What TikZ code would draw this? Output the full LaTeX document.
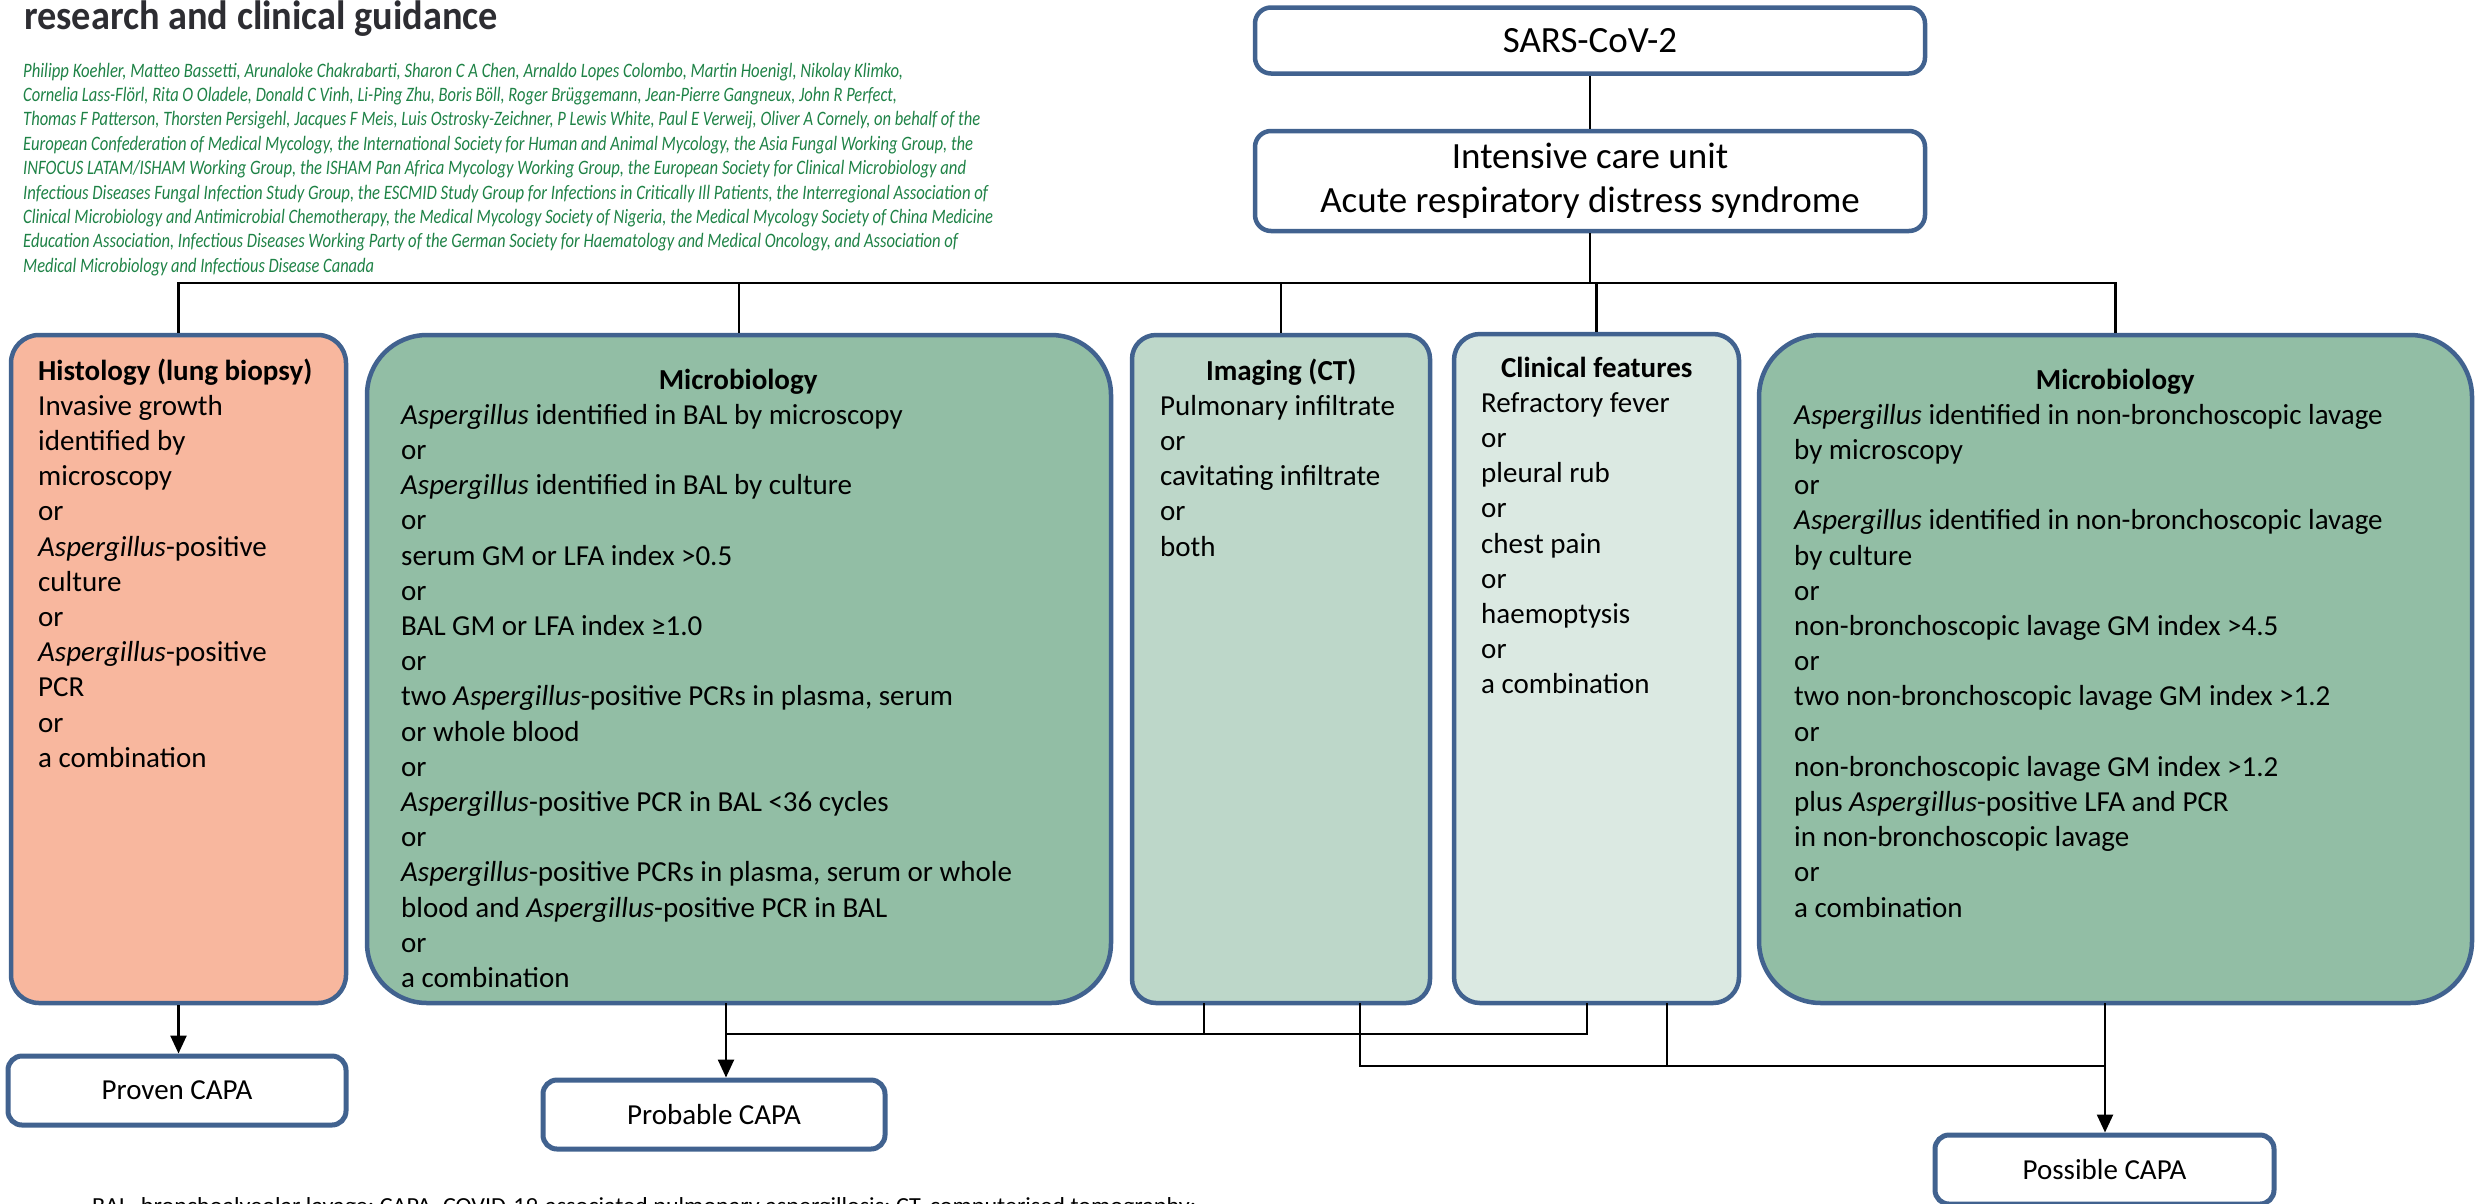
\documentclass[tikz,border=0pt]{standalone}
\usepackage{fontspec}
\setmainfont{Carlito}
\usepackage{graphicx}
\usetikzlibrary{arrows.meta}

\definecolor{frameblue}{RGB}{65,98,143}
\definecolor{histfill}{RGB}{248,183,158}
\definecolor{microfill}{RGB}{146,190,165}
\definecolor{imgfill}{RGB}{189,215,201}
\definecolor{clinfill}{RGB}{219,233,226}
\definecolor{authgreen}{RGB}{30,130,70}
\definecolor{titlegrey}{RGB}{45,45,50}

% one author line stretched to a fixed width, height kept
\newcommand{\authline}[2]{\resizebox{#1}{\height}{#2}}
\newcommand{\asp}{\textit{Aspergillus}}

\begin{document}
\begin{tikzpicture}[x=1pt,y=-1pt,
  critbox/.style={draw=frameblue, line width=4.5pt, rounded corners=#1, inner sep=0pt},
  topbox/.style={draw=frameblue, line width=4.5pt, rounded corners=16pt, fill=white,
    minimum width=670pt, align=center, font=\fontsize{37}{44}\selectfont},
  outbox/.style={draw=frameblue, line width=5pt, rounded corners=14pt, fill=white,
    minimum height=69pt, font=\fontsize{29}{35}\selectfont},
  bodytext/.style={anchor=base west, inner sep=0pt, font=\fontsize{29}{35.2}\selectfont},
  conn/.style={draw=black, line width=2.5pt},
  arr/.style={conn, -{Triangle[length=18pt,width=16pt]}},
]
\useasboundingbox (0,0) rectangle (2484,1203);

% ---- heading and authors ----
\node[anchor=base west, inner sep=0pt, text=titlegrey,
      font=\fontsize{41}{46}\selectfont\bfseries] (head) at (24,29)
  {\resizebox{474pt}{\height}{research and clinical guidance}};

\node[anchor=base west, inner sep=0pt, text=authgreen,
      font=\fontsize{20.5}{24.4}\selectfont\itshape] (authors) at (23,77)
  {\parbox[t]{1200pt}{%
  \authline{880pt}{Philipp Koehler, Matteo Bassetti, Arunaloke Chakrabarti, Sharon C A Chen, Arnaldo Lopes Colombo, Martin Hoenigl, Nikolay Klimko,}\\
  \authline{874pt}{Cornelia Lass-Flörl, Rita O Oladele, Donald C Vinh, Li-Ping Zhu, Boris Böll, Roger Brüggemann, Jean-Pierre Gangneux, John R Perfect,}\\
  \authline{957pt}{Thomas F Patterson, Thorsten Persigehl, Jacques F Meis, Luis Ostrosky-Zeichner, P Lewis White, Paul E Verweij, Oliver A Cornely, on behalf of the}\\
  \authline{950pt}{European Confederation of Medical Mycology, the International Society for Human and Animal Mycology, the Asia Fungal Working Group, the}\\
  \authline{943pt}{INFOCUS LATAM/ISHAM Working Group, the ISHAM Pan Africa Mycology Working Group, the European Society for Clinical Microbiology and}\\
  \authline{965pt}{Infectious Diseases Fungal Infection Study Group, the ESCMID Study Group for Infections in Critically Ill Patients, the Interregional Association of}\\
  \authline{970pt}{Clinical Microbiology and Antimicrobial Chemotherapy, the Medical Mycology Society of Nigeria, the Medical Mycology Society of China Medicine}\\
  \authline{935pt}{Education Association, Infectious Diseases Working Party of the German Society for Haematology and Medical Oncology, and Association of}\\
  \authline{351pt}{Medical Microbiology and Infectious Disease Canada}}};

% ---- top of the flow ----
\node[topbox, minimum height=66pt] (sars) at (1590,40.5) {SARS-CoV-2};
\node[topbox, minimum height=100pt] (icu) at (1590,181)
  {Intensive care unit\\Acute respiratory distress syndrome};

% ---- criteria boxes ----
\node[critbox=28pt, fill=histfill,  minimum width=335pt, minimum height=668pt] (hist)   at (178.5,669) {};
\node[critbox=60pt, fill=microfill, minimum width=744pt, minimum height=668pt] (micro1) at (739,669) {};
\node[critbox=24pt, fill=imgfill,   minimum width=298pt, minimum height=668pt] (imaging) at (1281,669) {};
\node[critbox=26pt, fill=clinfill,  minimum width=285pt, minimum height=669pt] (clinical) at (1596.5,668.5) {};
\node[critbox=62pt, fill=microfill, minimum width=713pt, minimum height=668pt] (micro2) at (2115.5,669) {};

\node[bodytext] (histtext) at (38,380) {\parbox[t]{281pt}{\raggedright
  \textbf{Histology (lung biopsy)}\\
  Invasive growth\\ identified by\\ microscopy\\ or\\
  \asp-positive\\ culture\\ or\\ \asp-positive\\ PCR\\ or\\ a combination}};

\node[bodytext] (micro1text) at (401,389) {\parbox[t]{674pt}{\raggedright
  \makebox[\linewidth]{\textbf{Microbiology}}\\
  \asp{} identified in BAL by microscopy\\ or\\
  \asp{} identified in BAL by culture\\ or\\
  serum GM or LFA index >0.5\\ or\\
  BAL GM or LFA index ≥1.0\\ or\\
  two \asp-positive PCRs in plasma, serum\\ or whole blood\\ or\\
  \asp-positive PCR in BAL <36 cycles\\ or\\
  \asp-positive PCRs in plasma, serum or whole\\
  blood and \asp-positive PCR in BAL\\ or\\ a combination}};

\node[bodytext] (imgtext) at (1160,380) {\parbox[t]{242pt}{\raggedright
  \makebox[\linewidth]{\textbf{Imaging (CT)}}\\
  Pulmonary infiltrate\\ or\\ cavitating infiltrate\\ or\\ both}};

\node[bodytext] (clintext) at (1481,377) {\parbox[t]{231pt}{\raggedright
  \makebox[\linewidth]{\textbf{Clinical features}}\\
  Refractory fever\\ or\\ pleural rub\\ or\\ chest pain\\ or\\
  haemoptysis\\ or\\ a combination}};

\node[bodytext] (micro2text) at (1794,389) {\parbox[t]{642pt}{\raggedright
  \makebox[\linewidth]{\textbf{Microbiology}}\\
  \asp{} identified in non-bronchoscopic lavage\\ by microscopy\\ or\\
  \asp{} identified in non-bronchoscopic lavage\\ by culture\\ or\\
  non-bronchoscopic lavage GM index >4.5\\ or\\
  two non-bronchoscopic lavage GM index >1.2\\ or\\
  non-bronchoscopic lavage GM index >1.2\\
  plus \asp-positive LFA and PCR\\
  in non-bronchoscopic lavage\\ or\\ a combination}};

% ---- outcome boxes ----
\node[outbox, minimum width=338pt] (proven)   at (177,1090.5)  {Proven CAPA};
\node[outbox, minimum width=342pt] (probable) at (714,1114.5)  {Probable CAPA};
\node[outbox, minimum width=339pt] (possible) at (2104.5,1169.5) {Possible CAPA};

% ---- upper connectors ----
\coordinate (bus) at (1590,283);
\draw[conn] (sars.south) -- (icu.north);
\draw[conn] (icu.south) -- (bus);
\draw[conn] (hist.north) |- (bus) -| (micro2.north);
\draw[conn] (micro1.north) -- (micro1.north |- bus);
\draw[conn] (imaging.north) -- (imaging.north |- bus);
\draw[conn] (clinical.north) -- (clinical.north |- bus);

% ---- lower connectors ----
\coordinate (m1out) at (726,1003);
\coordinate (imgA) at (1204,1003);
\coordinate (imgB) at (1360,1003);
\coordinate (clA) at (1587,1003);
\coordinate (clB) at (1667,1003);
\coordinate (m2out) at (2105,1003);
\coordinate (pbus) at (726,1034);
\coordinate (qbus) at (2105,1066);

\draw[arr] (hist.south) -- (hist.south |- proven.north);
\draw[arr] (m1out) -- (m1out |- probable.north);
\draw[conn] (imgA) -- (imgA |- pbus);
\draw[conn] (clA) |- (pbus);
\draw[conn] (imgB) |- (qbus);
\draw[conn] (clB) -- (clB |- qbus);
\draw[arr] (m2out) -- (m2out |- possible.north);

% ---- abbreviations (running off the lower edge) ----
\node[anchor=base west, inner sep=0pt, font=\fontsize{23}{28}\selectfont] (abbrev) at (92,1213)
  {\resizebox{1104pt}{\height}{BAL, bronchoalveolar lavage; CAPA, COVID-19-associated pulmonary aspergillosis; CT, computerised tomography;}};
\end{tikzpicture}
\end{document}
